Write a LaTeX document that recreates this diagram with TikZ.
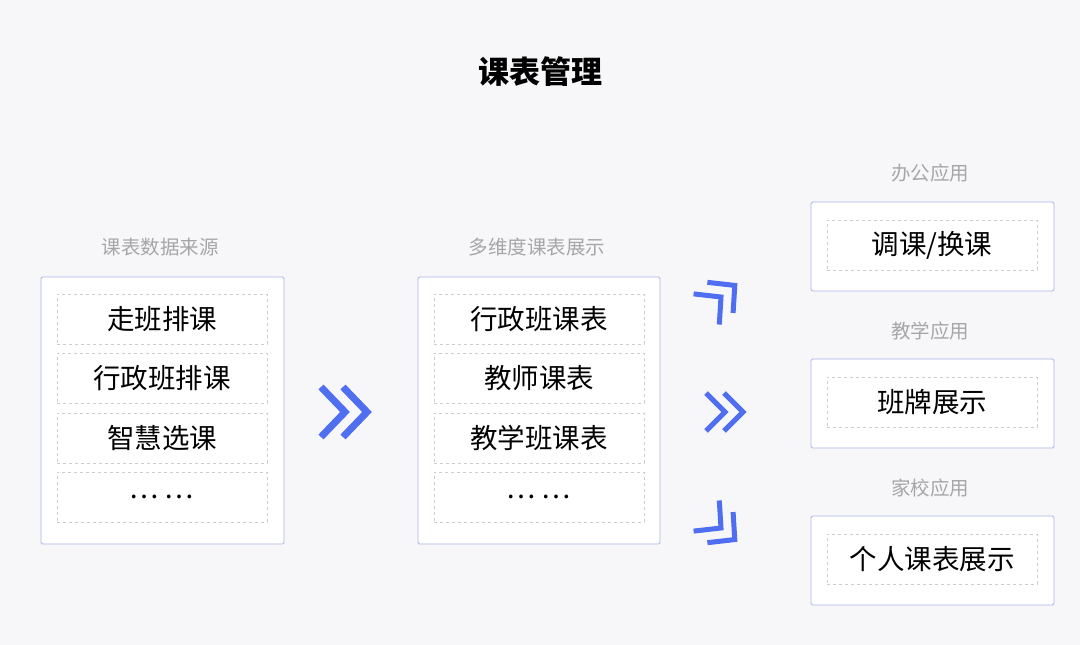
\documentclass[tikz,border=0pt]{standalone}
\usepackage{fontspec}
\setmainfont{Noto Sans CJK SC}
\usepackage{xcolor}
\definecolor{bgc}{HTML}{F7F7FA}
\definecolor{framec}{HTML}{A9B4E6}
\definecolor{dashc}{HTML}{CCCCCC}
\definecolor{chevc}{HTML}{4F6EF0}
\definecolor{labelc}{HTML}{A6A6A6}
\tikzset{
  outerbox/.style={draw=framec, fill=white, line width=0.9pt, rounded corners=1.5pt},
  itembox/.style={draw=dashc, dashed, fill=white, line width=0.8pt, minimum width=210pt, minimum height=50pt, font=\fontsize{27.5}{30}\selectfont},
  grouplabel/.style={text=labelc, font=\fontsize{19.5}{22}\selectfont},
  chev/.style={draw=chevc, line width=#1, line cap=butt, line join=miter},
}
\begin{document}
\begin{tikzpicture}[x=1pt,y=-1pt]
% 背景
\fill[bgc] (0,0) rectangle (1080,645);
\useasboundingbox (0,0) rectangle (1080,645);

% 标题
\node[font=\fontsize{31}{34}\selectfont\bfseries] (title) at (540,72) {课表管理};

% 左侧：课表数据来源
\node[grouplabel] (srclabel) at (160,247) {课表数据来源};
\draw[outerbox] (41,277) rectangle (284,544);
\node[itembox] (src1) at (162,319) {走班排课};
\node[itembox] (src2) at (162,378) {行政班排课};
\node[itembox] (src3) at (162,438) {智慧选课};
\node[itembox] (src4) at (162,497) {…\hspace{6pt}…};

% 中间：多维度课表展示
\node[grouplabel] (viewlabel) at (537,247) {多维度课表展示};
\draw[outerbox] (418,277) rectangle (660,544);
\node[itembox] (view1) at (539,319) {行政班课表};
\node[itembox] (view2) at (539,378) {教师课表};
\node[itembox] (view3) at (539,438) {教学班课表};
\node[itembox] (view4) at (539,497) {…\hspace{6pt}…};

% 右侧：应用
\node[grouplabel] (applabel1) at (930,173) {办公应用};
\draw[outerbox] (811,202) rectangle (1054,291);
\node[itembox] (app1) at (932,245) {调课/换课};
\node[grouplabel] (applabel2) at (930,331) {教学应用};
\draw[outerbox] (811,359) rectangle (1054,448);
\node[itembox] (app2) at (932,402) {班牌展示};
\node[grouplabel] (applabel3) at (930,488) {家校应用};
\draw[outerbox] (811,516) rectangle (1054,605);
\node[itembox] (app3) at (932,559) {个人课表展示};

% 箭头
\foreach \dx in {0,22}
  \draw[chev=7pt] (321+\dx,387) -- (345+\dx,412) -- (321+\dx,437);
\begin{scope}[shift={(725,412)}]
  \foreach \dx in {-9,9}
    \draw[chev=5pt] (\dx-10,-19) -- (\dx+9,0) -- (\dx-10,19);
\end{scope}
\begin{scope}[shift={(721,297)}, rotate=40]
  \foreach \dx in {-9,9}
    \draw[chev=5pt] (\dx-10,-20) -- (\dx+9,0) -- (\dx-10,20);
\end{scope}
\begin{scope}[shift={(721,528)}, rotate=-40]
  \foreach \dx in {-9,9}
    \draw[chev=5pt] (\dx-10,-20) -- (\dx+9,0) -- (\dx-10,20);
\end{scope}
\end{tikzpicture}
\end{document}
